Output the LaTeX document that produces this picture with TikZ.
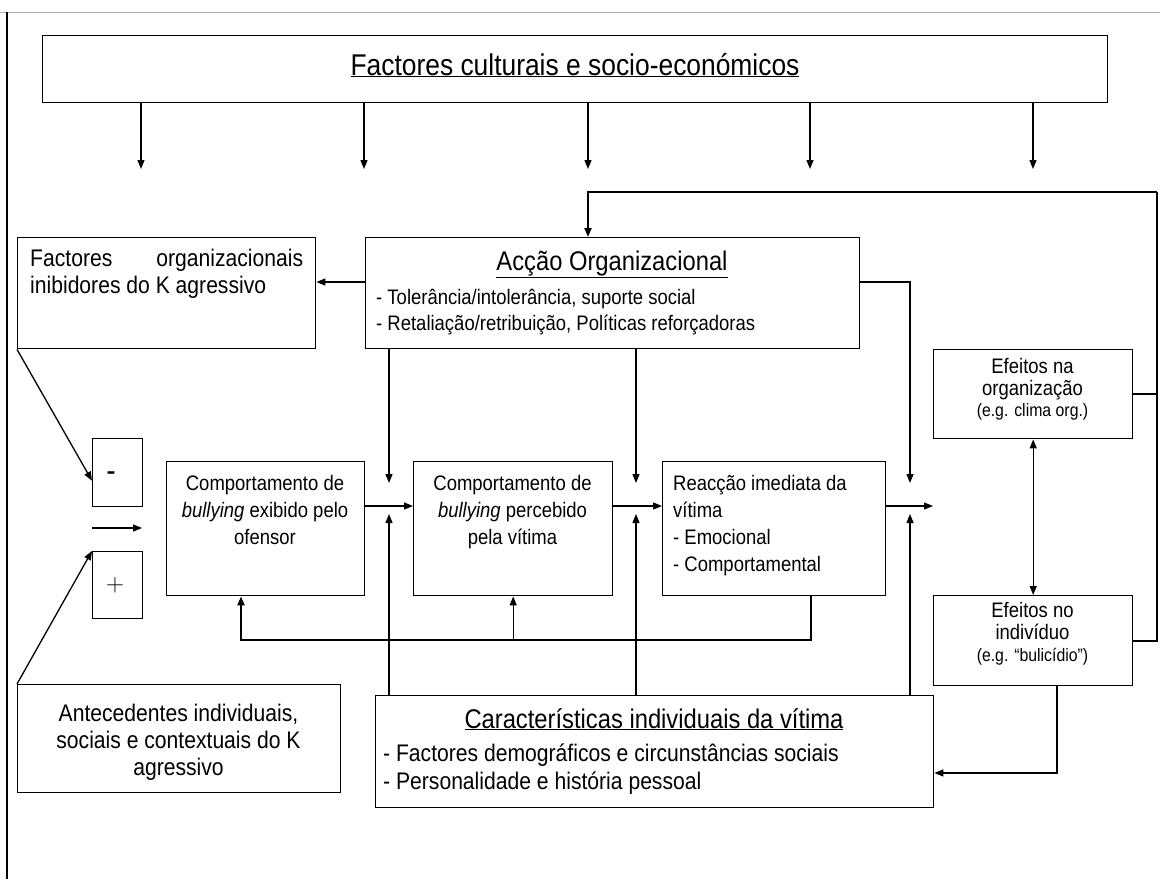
\documentclass[tikz,border=0pt]{standalone}
\usepackage{fontspec}
\setmainfont{Liberation Sans}[FakeStretch=0.88]
\usetikzlibrary{arrows.meta}
\newcommand\myf[2]{\fontsize{#1}{#2}\selectfont}
\begin{document}
\begin{tikzpicture}[x=1pt,y=-1pt,
  box/.style={draw,line width=1.4pt,inner sep=0pt,anchor=north west},
  txt/.style={inner sep=0pt},
  conn/.style={line width=1.3pt},
  thk/.style={line width=2pt},
  tip/.style={-{Triangle[length=9pt,width=7pt]}},
  dtip/.style={{Triangle[length=9pt,width=7pt]}-{Triangle[length=9pt,width=7pt]}}]
\useasboundingbox (0,0) rectangle (1160,879);
% page frame
\draw[gray!60,line width=1.5pt] (0,12.5) -- (1160,12.5);
\draw[line width=1.5pt] (7,12) -- (7,879);

% boxes
\node[box,minimum width=1065pt,minimum height=67pt] (top) at (42,35) {};
\node[box,minimum width=494pt,minimum height=111pt] (acc) at (365,237) {};
\node[box,minimum width=298pt,minimum height=111pt] (forg) at (17,237) {};
\node[box,minimum width=50pt,minimum height=68pt] (minus) at (92,438) {};
\node[box,minimum width=50pt,minimum height=67pt] (plus) at (92,551) {};
\node[box,minimum width=198pt,minimum height=134pt] (cexb) at (166,461) {};
\node[box,minimum width=199pt,minimum height=134pt] (cper) at (413,461) {};
\node[box,minimum width=223pt,minimum height=134pt] (reac) at (662,461) {};
\node[box,minimum width=199pt,minimum height=89pt] (eorg) at (933,349) {};
\node[box,minimum width=199pt,minimum height=90pt] (eind) at (933,595) {};
\node[box,minimum width=323pt,minimum height=108pt] (ante) at (17,684) {};
\node[box,minimum width=558pt,minimum height=112pt] (cara) at (375,695) {};

% texts
\node[txt,anchor=base] (ttop) at (575,75) {\myf{30}{34}\underline{Factores culturais e socio-económicos}};
\node[txt,anchor=base] (tacc) at (612,270) {\myf{27}{30}\underline{Acção Organizacional}};
\node[txt,anchor=base west] (tacc1) at (376,304) {\myf{21}{27}- Tolerância/intolerância, suporte social};
\node[txt,anchor=base west] (tacc2) at (376,330) {\myf{21}{27}- Retaliação/retribuição, Políticas reforçadoras};
\node[txt,anchor=base west] (tf1) at (30,266) {\myf{24}{27}\hbox to 273pt{Factores\hfill organizacionais}};
\node[txt,anchor=base west] (tf2) at (30,293) {\myf{24}{27}inibidores do K agressivo};
\node[txt,anchor=base] (tm) at (111,481) {\myf{32}{32}-};
\node[txt,anchor=center] (tp) at (115,585) {\myf{30}{30}$+$};
\node[txt,anchor=base] (te1) at (265,490) {\myf{21}{27}Comportamento de};
\node[txt,anchor=base] (te2) at (265,517) {\myf{21}{27}\textit{bullying} exibido pelo};
\node[txt,anchor=base] (te3) at (265,544) {\myf{21}{27}ofensor};
\node[txt,anchor=base] (tp1) at (512.5,490) {\myf{21}{27}Comportamento de};
\node[txt,anchor=base] (tp2) at (512.5,517) {\myf{21}{27}\textit{bullying} percebido};
\node[txt,anchor=base] (tp3) at (512.5,544) {\myf{21}{27}pela vítima};
\node[txt,anchor=base west] (tr1) at (673,490) {\myf{21}{27}Reacção imediata da};
\node[txt,anchor=base west] (tr2) at (673,517) {\myf{21}{27}vítima};
\node[txt,anchor=base west] (tr3) at (673,544) {\myf{21}{27}- Emocional};
\node[txt,anchor=base west] (tr4) at (673,571) {\myf{21}{27}- Comportamental};
\node[txt,anchor=base] (to1) at (1032.5,373) {\myf{21}{21}Efeitos na};
\node[txt,anchor=base] (to2) at (1032.5,395) {\myf{21}{21}organização};
\node[txt,anchor=base] (to3) at (1032.5,416) {\myf{18}{21}(e.g. clima org.)};
\node[txt,anchor=base] (ti1) at (1032.5,617) {\myf{21}{21}Efeitos no};
\node[txt,anchor=base] (ti2) at (1032.5,639) {\myf{21}{21}indivíduo};
\node[txt,anchor=base] (ti3) at (1032.5,661) {\myf{18}{21}(e.g. “bulicídio”)};
\node[txt,anchor=base] (ta1) at (178.5,721) {\myf{24}{27}Antecedentes individuais,};
\node[txt,anchor=base] (ta2) at (178.5,748) {\myf{24}{27}sociais e contextuais do K};
\node[txt,anchor=base] (ta3) at (178.5,775) {\myf{24}{27}agressivo};
\node[txt,anchor=base] (tc) at (654,728) {\myf{27}{30}\underline{Características individuais da vítima}};
\node[txt,anchor=base west] (tc1) at (383,761) {\myf{24}{28}- Factores demográficos e circunstâncias sociais};
\node[txt,anchor=base west] (tc2) at (383,789) {\myf{24}{28}- Personalidade e história pessoal};

% free-end coordinates
\coordinate (d1) at (141,169);
\coordinate (d2) at (364,169);
\coordinate (d3) at (588,169);
\coordinate (d4) at (810,169);
\coordinate (d5) at (1033,169);
\coordinate (fbR) at (1157,192);
\coordinate (fbL) at (588,192);
\coordinate (y282) at (0,282);
\coordinate (yh) at (0,506);
\coordinate (j1d) at (389,483);
\coordinate (j2d) at (636,483);
\coordinate (j3d) at (910,483);
\coordinate (j1u) at (389,514);
\coordinate (j2u) at (636,514);
\coordinate (j3u) at (910,514);
\coordinate (out) at (933,506);
\coordinate (mL) at (92,528);
\coordinate (mR) at (142,528);
\coordinate (lpR) at (811,640);
\coordinate (lpL) at (241,640);
\coordinate (c1) at (1057,773);

% connectors
\foreach \d in {d1,d2,d3,d4,d5} \draw[conn,tip] (top.south -| \d) -- (\d);
\draw[thk] (eind.east) -| (fbR);
\draw[thk,tip] (fbR) -- (fbL) -- (fbL |- acc.north);
\draw[thk] (eorg.east) -- (eorg.east -| fbR);
\draw[conn,tip] (acc.west |- y282) -- (forg.east |- y282);
\draw[conn,tip] (acc.east |- y282) -| (j3d);
\draw[conn,tip] (acc.south -| j1d) -- (j1d);
\draw[conn,tip] (acc.south -| j2d) -- (j2d);
\draw[conn,tip] (cexb.east |- yh) -- (cper.west |- yh);
\draw[conn,tip] (cper.east |- yh) -- (reac.west |- yh);
\draw[conn,tip] (reac.east |- yh) -- (out);
\draw[conn,tip] (cara.north -| j1u) -- (j1u);
\draw[conn,tip] (cara.north -| j2u) -- (j2u);
\draw[conn,tip] (cara.north -| j3u) -- (j3u);
\draw[conn,tip] (forg.south west) -- ([yshift=-8pt]minus.west);
\draw[conn,tip] (ante.north west) -- (plus.north west);
\draw[conn,tip] (mL) -- (mR);
\draw[thk,tip] (reac.south -| lpR) -- (lpR) -- (lpL) -- (lpL |- cexb.south);
\draw[conn,tip] (lpL -| cper.south) -- (cper.south);
\draw[conn,dtip] (eorg.south) -- (eind.north);
\draw[conn,tip] (eind.south -| c1) -- (c1) -- (cara.east |- c1);
\end{tikzpicture}
\end{document}
